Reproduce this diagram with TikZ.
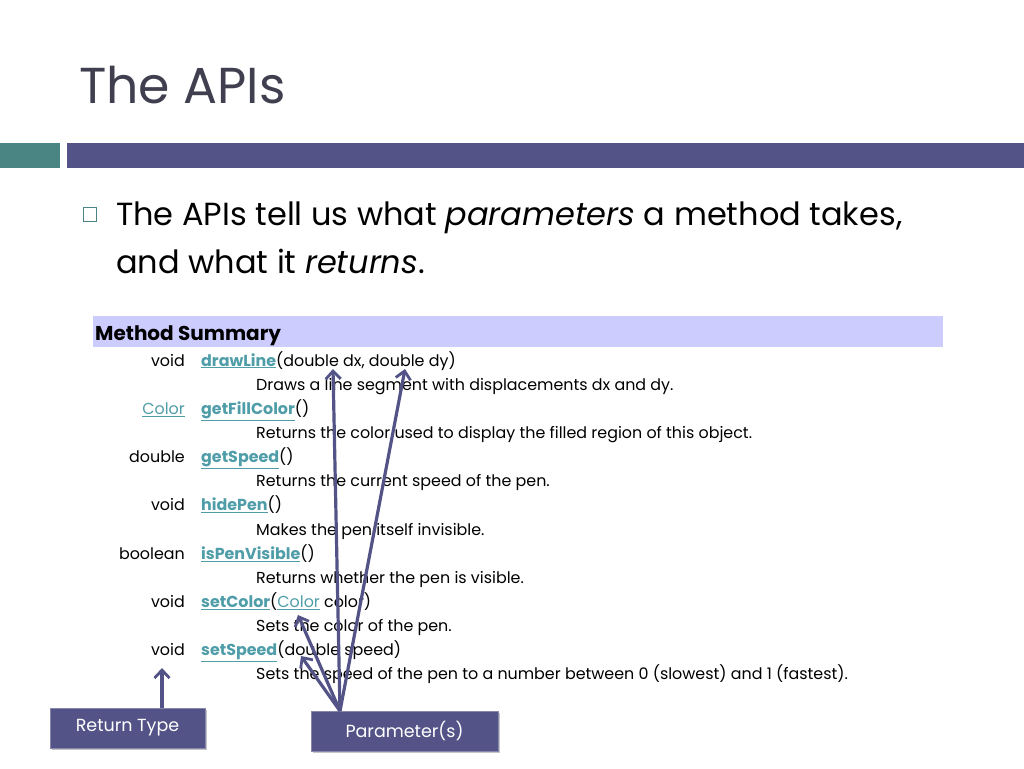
\documentclass[tikz,border=0pt]{standalone}
\usepackage{fontspec}
\setmainfont{Poppins}
\usetikzlibrary{arrows.meta,shadows}
\definecolor{barteal}{HTML}{4A8483}
\definecolor{barpurple}{HTML}{545387}
\definecolor{titlecol}{HTML}{3F3F4F}
\definecolor{hdrcol}{HTML}{CCCCFF}
\definecolor{linkcol}{HTML}{4F9DA8}
\definecolor{arrcol}{HTML}{545387}
\begin{document}
\begin{tikzpicture}[x=1pt,y=-1pt,
  tabtxt/.style={inner sep=0pt,font=\fontsize{15.9}{18}\selectfont},
  rettxt/.style={tabtxt,anchor=base east},
  methtxt/.style={tabtxt,anchor=base west},
  desctxt/.style={tabtxt,anchor=base west},
  labelbox/.style={fill=barpurple,draw=barpurple!70!white,line width=0.6pt,minimum height=40pt,text=white,
    font=\fontsize{17.5}{20}\selectfont,drop shadow={shadow xshift=2pt,shadow yshift=-2pt,opacity=0.45}},
  ptr/.style={draw=arrcol,line width=3.2pt,-{Straight Barb[length=8pt,width=15pt,line width=2.8pt]}}
]
\useasboundingbox (0,0) rectangle (1024,768);
\fill[white] (0,0) rectangle (1024,768);
% title
\node[anchor=base west,inner sep=0pt,text=titlecol,font=\fontsize{50.5}{60}\selectfont] (title) at (79,103) {The APIs};
% bars
\fill[barteal] (0,143) rectangle (60,168);
\fill[barpurple] (67,143) rectangle (1024,168);
% bullet
\draw[barteal,line width=0.9pt] (83.5,207.5) rectangle (96.5,221.5);
\node[anchor=base west,inner sep=0pt,font=\fontsize{32}{38}\selectfont] (b1) at (116,225) {The APIs tell us what \textit{parameters} a method takes,};
\node[anchor=base west,inner sep=0pt,font=\fontsize{32}{38}\selectfont] (b2) at (116,273) {and what it \textit{returns}.};
% header
\fill[hdrcol] (93,316) rectangle (943,347);
\node[anchor=base west,inner sep=0pt,font=\fontsize{20}{24}\selectfont\bfseries] (hdr) at (95,340) {Method Summary};
% rows
\newcommand{\lnk}[1]{\textcolor{linkcol}{\underline{#1}}}
\newcommand{\mth}[1]{\textcolor{linkcol}{\underline{\textbf{#1}}}}
\node[rettxt] (r0) at (185,{366}) {void};
\node[methtxt] (m0) at (201,{366}) {\mth{drawLine}(double dx, double dy)};
\node[desctxt] (d0) at (256,{366+24.15}) {Draws a line segment with displacements dx and dy.};
\node[rettxt] (r1) at (185,{366+24.15*2}) {\lnk{Color}};
\node[methtxt] (m1) at (201,{366+24.15*2}) {\mth{getFillColor}()};
\node[desctxt] (d1) at (256,{366+24.15*3}) {Returns the color used to display the filled region of this object.};
\node[rettxt] (r2) at (185,{366+24.15*4}) {double};
\node[methtxt] (m2) at (201,{366+24.15*4}) {\mth{getSpeed}()};
\node[desctxt] (d2) at (256,{366+24.15*5}) {Returns the current speed of the pen.};
\node[rettxt] (r3) at (185,{366+24.15*6}) {void};
\node[methtxt] (m3) at (201,{366+24.15*6}) {\mth{hidePen}()};
\node[desctxt] (d3) at (256,{366+24.15*7}) {Makes the pen itself invisible.};
\node[rettxt] (r4) at (185,{366+24.15*8}) {boolean};
\node[methtxt] (m4) at (201,{366+24.15*8}) {\mth{isPenVisible}()};
\node[desctxt] (d4) at (256,{366+24.15*9}) {Returns whether the pen is visible.};
\node[rettxt] (r5) at (185,{366+24.15*10}) {void};
\node[methtxt] (m5) at (201,{366+24.15*10}) {\mth{setColor}(\lnk{Color} color)};
\node[desctxt] (d5) at (256,{366+24.15*11}) {Sets the color of the pen.};
\node[rettxt] (r6) at (185,{366+24.15*12}) {void};
\node[methtxt] (m6) at (201,{366+24.15*12}) {\mth{setSpeed}(double speed)};
\node[desctxt] (d6) at (256,{366+24.15*13}) {Sets the speed of the pen to a number between 0 (slowest) and 1 (fastest).};
% label boxes
\node[labelbox,minimum width=155pt] (ret) at (127.5,728) {Return Type};
\node[labelbox,minimum width=187pt] (par) at (404.5,731) {Parameter(s)};
% arrow targets
\coordinate (t0) at (333,369);
\coordinate (t1) at (405,369);
\coordinate (t2) at (298,615);
\coordinate (t3) at (301,656);
\coordinate (t4) at (162,668);
\coordinate (src) at (340,711);
\draw[ptr] (ret.north -| t4) -- (t4);
\draw[ptr] (src) -- (t0);
\draw[ptr] (src) -- (t1);
\draw[ptr] (src) -- (t2);
\draw[ptr] (src) -- (t3);
\end{tikzpicture}
\end{document}
